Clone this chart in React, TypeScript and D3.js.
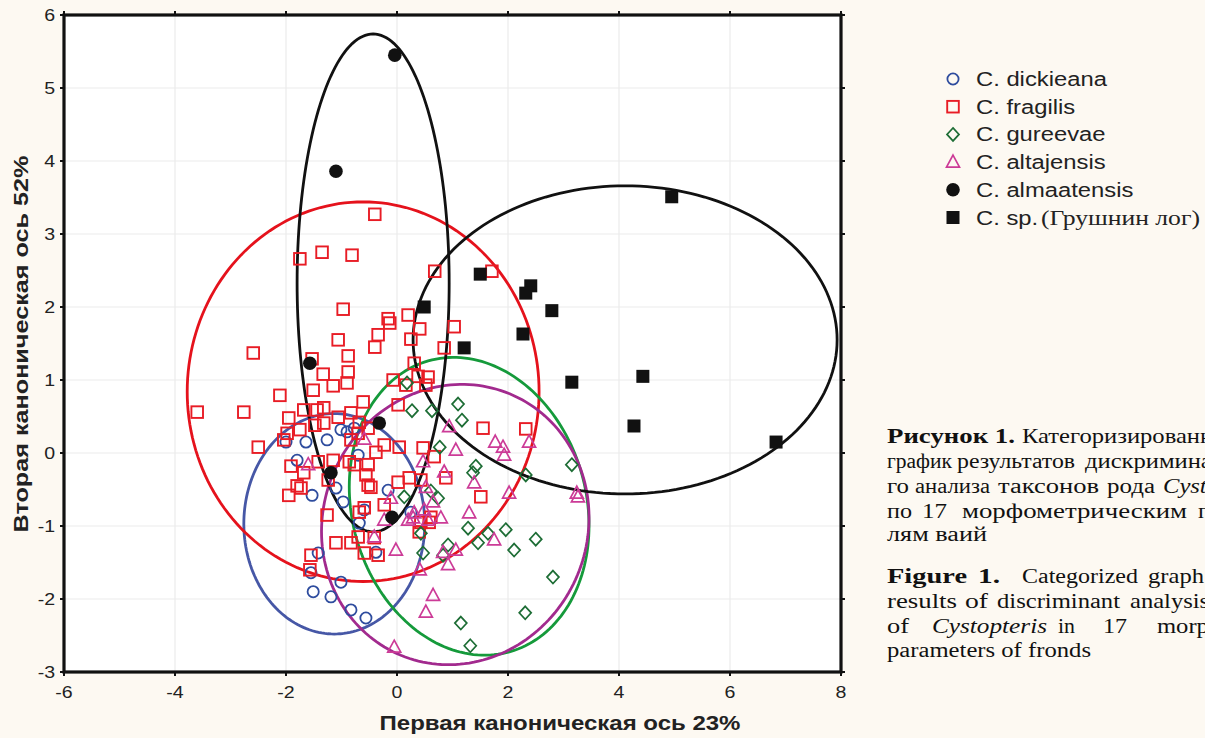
import React from "react";
import * as d3 from "d3";

type Pt = [number, number];

const xTicks = [-6, -4, -2, 0, 2, 4, 6, 8];
const yTicks = [-3, -2, -1, 0, 1, 2, 3, 4, 5, 6];

const dickieana: Pt[] = [
  [-2.0, 0.15], [-1.64, 0.15], [-1.8, -0.1], [-1.26, 0.18], [-1.01, 0.32], [-0.9, 0.29],
  [-0.77, 0.34], [-0.7, -0.03], [-1.53, -0.58], [-1.1, -0.48], [-0.97, -0.67], [-0.68, -0.96],
  [-0.16, -0.51], [-0.59, -0.78], [0.25, -0.81], [-1.42, -1.37], [-1.55, -1.64], [-1.51, -1.9],
  [-1.19, -1.97], [-1.01, -1.77], [-0.38, -1.36], [-0.83, -2.15], [-0.56, -2.26],
];

const fragilis: Pt[] = [
  [-1.75, 2.66], [-1.35, 2.75], [-0.81, 2.71], [0.68, 2.49], [-0.97, 1.97], [-0.16, 1.84],
  [-0.13, 1.78], [0.2, 1.89], [0.41, 1.7], [-1.06, 1.55], [-0.34, 1.62], [-0.4, 1.45],
  [0.25, 1.56], [0.85, 1.44], [-0.88, 1.33], [-2.59, 1.37], [-1.53, 1.29], [-0.88, 1.11],
  [-1.33, 1.08], [-1.15, 0.92], [-0.9, 0.96], [-1.51, 0.86], [-2.11, 0.79], [-3.6, 0.56],
  [-2.76, 0.56], [-0.61, 0.7], [0.31, 1.23], [-0.07, 1.0], [0.16, 0.93], [0.56, 1.04],
  [0.38, 1.05], [0.02, 0.66], [-1.95, 0.48], [-1.68, 0.59], [-1.44, 0.59], [-1.32, 0.62],
  [-0.83, 0.55], [-0.4, 3.27], [1.71, 2.49], [1.03, 1.73], [1.55, 0.34], [2.32, 0.33],
  [0.52, 0.93], [-1.06, 0.49], [-2.5, 0.08], [-1.98, 0.27], [-1.75, 0.32], [-1.32, 0.41],
  [-1.48, 0.38], [-0.83, 0.18], [-0.68, 0.42], [-0.7, 0.27], [-0.52, 0.34], [-0.23, 0.11],
  [0.04, 0.08], [-0.38, 0.01], [-0.86, -0.12], [-0.77, -0.16], [-0.52, -0.16], [-1.91, -0.18],
  [-1.68, -0.27], [-1.42, -0.12], [-1.15, -0.1], [-1.24, -0.37], [-1.8, -0.45], [-1.95, -0.58],
  [-0.56, -0.3], [-0.52, -0.44], [-0.47, -0.47], [0.02, -0.4], [0.47, 0.07], [0.67, -0.05],
  [0.43, -0.37], [0.88, -0.34], [0.22, -0.34], [-1.26, -0.85], [-0.68, -0.81], [-0.59, -0.75],
  [-0.23, -0.71], [0.43, -0.95], [0.61, -0.88], [-0.7, -1.15], [-0.41, -1.16], [-2.04, 0.18],
  [-1.73, -0.48], [-1.1, -1.23], [-1.55, -1.4], [-1.57, -1.6], [-0.83, -1.23], [-0.59, -1.37],
  [-0.34, -1.4], [0.58, -0.95], [0.4, -1.08], [1.51, -0.6],
];

const gureevae: Pt[] = [
  [0.18, 0.96], [0.27, 0.58], [0.63, 0.58], [1.1, 0.67], [1.17, 0.45], [0.77, 0.08],
  [1.42, -0.18], [1.37, -0.27], [2.32, -0.3], [3.15, -0.16], [0.13, -0.6], [0.61, -0.52],
  [0.74, -0.62], [1.28, -1.03], [1.96, -1.05], [2.5, -1.18], [1.64, -1.1], [0.43, -1.1],
  [0.47, -1.37], [0.92, -1.26], [1.46, -1.23], [2.11, -1.33], [2.81, -1.7], [0.83, -1.4],
  [2.31, -2.19], [1.15, -2.33], [1.32, -2.64],
];

const altajensis: Pt[] = [
  [-0.59, 0.19], [0.94, 0.36], [1.06, 0.04], [1.77, 0.15], [1.91, 0.08], [1.93, -0.03],
  [2.38, 0.15], [3.26, -0.6], [3.24, -0.55], [1.39, -0.41], [2.02, -0.55], [0.85, -0.26],
  [0.52, -0.47], [0.65, -0.67], [0.79, -0.89], [0.29, -0.89], [0.49, -0.78], [1.3, -0.82],
  [-0.11, -0.62], [-0.23, -0.92], [0.47, -0.12], [-1.6, -0.16], [0.31, -0.82], [0.56, -0.92],
  [0.2, -0.92], [-0.41, -1.15], [-0.02, -1.33], [0.83, -1.36], [1.06, -1.33], [0.92, -1.53],
  [0.41, -1.6], [1.75, -1.19], [0.65, -1.95], [0.52, -2.18], [-0.05, -2.66],
];

const almaatensis: Pt[] = [
  [-0.04, 5.45], [-1.1, 3.86], [-1.57, 1.23], [-1.19, -0.27], [-0.32, 0.41], [-0.09, -0.88],
];

const grushnin: Pt[] = [
  [4.95, 3.51], [1.5, 2.45], [2.41, 2.29], [2.32, 2.19], [0.49, 2.0], [2.79, 1.95],
  [2.27, 1.63], [1.21, 1.44], [3.15, 0.97], [4.43, 1.05], [4.27, 0.37], [6.83, 0.15],
];

// ellipses: center x, center y, half-extent x, half-extent y, correlation
const ellipseNames = ["dickieana", "fragilis", "gureevae", "altajensis", "almaatensis", "grushnin"];
const ellipseCx = [-1.13, -0.61, 1.3, 1.05, -0.43, 4.11];
const ellipseCy = [-0.97, 0.84, -0.73, -0.98, 2.33, 1.55];
const ellipseSx = [1.63, 3.17, 2.16, 2.41, 1.37, 3.82];
const ellipseSy = [1.51, 2.6, 2.04, 1.92, 3.41, 2.11];
const ellipseR = [0, 0, -0.13, 0.05, 0, 0];
const ellipseColors = ["#4657a6", "#e5121c", "#159a3b", "#a22a8e", "#111111", "#111111"];

const legendLabels = ["C. dickieana", "C. fragilis", "C. gureevae", "C. altajensis", "C. almaatensis", "C. sp."];

const BLUE = "#2e4c9e";
const RED = "#e81c25";
const GREEN = "#1d6d35";
const MAGENTA = "#cc3b97";
const BLACK = "#111111";

const x = d3.scaleLinear().domain([-6, 8]).range([64, 841]);
const y = d3.scaleLinear().domain([-3, 6]).range([672, 15]);

function ellipsePath(i: number): string {
  const pts: [number, number][] = d3.range(0, 361, 2).map((deg) => {
    const t = (deg * Math.PI) / 180;
    const r = ellipseR[i];
    const ex = ellipseCx[i] + ellipseSx[i] * Math.cos(t);
    const ey = ellipseCy[i] + ellipseSy[i] * (r * Math.cos(t) + Math.sqrt(1 - r * r) * Math.sin(t));
    return [x(ex), y(ey)];
  });
  return (d3.line().curve(d3.curveLinearClosed)(pts) as string) || "";
}

function Marker({ kind, cx, cy }: { kind: number; cx: number; cy: number }) {
  switch (kind) {
    case 0:
      return <circle cx={cx} cy={cy} r={5.6} fill="none" stroke={BLUE} strokeWidth={1.8} />;
    case 1:
      return <rect x={cx - 5.8} y={cy - 5.8} width={11.6} height={11.6} fill="none" stroke={RED} strokeWidth={1.9} />;
    case 2:
      return (
        <path d={`M${cx},${cy - 6.5}L${cx + 6},${cy}L${cx},${cy + 6.5}L${cx - 6},${cy}Z`} fill="none" stroke={GREEN} strokeWidth={1.7} />
      );
    case 3:
      return (
        <path d={`M${cx},${cy - 7}L${cx + 6.5},${cy + 5}L${cx - 6.5},${cy + 5}Z`} fill="none" stroke={MAGENTA} strokeWidth={1.7} />
      );
    case 4:
      return <circle cx={cx} cy={cy} r={6.8} fill={BLACK} />;
    default:
      return <rect x={cx - 6.5} y={cy - 6.5} width={13} height={13} fill={BLACK} />;
  }
}

const seriesList: Pt[][] = [dickieana, fragilis, gureevae, altajensis, almaatensis, grushnin];

type Word = { t: string; x: number; y: number; len?: number; w?: string; s?: string };

export default function App() {
  const serif = "'Liberation Serif', 'Times New Roman', serif";
  const sans = "'Liberation Sans', Arial, sans-serif";
  const caption: Word[] = [
    { t: "Рисунок 1.", x: 887, y: 443, len: 128, w: "bold" },
    { t: "Категоризированный", x: 1022, y: 443 },
    { t: "график", x: 887, y: 468, len: 65 },
    { t: "результатов", x: 957, y: 468, len: 118 },
    { t: "дискриминантно-", x: 1085, y: 468 },
    { t: "го", x: 887, y: 493, len: 22 },
    { t: "анализа", x: 915, y: 493, len: 75 },
    { t: "таксонов", x: 998, y: 493, len: 101 },
    { t: "рода", x: 1107, y: 493, len: 48 },
    { t: "Cystopteris", x: 1163, y: 493, s: "italic" },
    { t: "по", x: 887, y: 518, len: 25 },
    { t: "17", x: 922, y: 518, len: 25 },
    { t: "морфометрическим", x: 962, y: 518, len: 225 },
    { t: "пара-", x: 1198, y: 518 },
    { t: "лям ваий", x: 887, y: 541, len: 100 },
    { t: "Figure", x: 887, y: 583, len: 80, w: "bold" },
    { t: "1.", x: 978, y: 583, len: 22, w: "bold" },
    { t: "Categorized", x: 1022, y: 583, len: 116 },
    { t: "graph", x: 1148, y: 583 },
    { t: "results", x: 887, y: 608, len: 70 },
    { t: "of", x: 965, y: 608, len: 23 },
    { t: "discriminant", x: 997, y: 608, len: 123 },
    { t: "analysis", x: 1130, y: 608 },
    { t: "of", x: 887, y: 633, len: 22 },
    { t: "Cystopteris", x: 932, y: 633, len: 115, s: "italic" },
    { t: "in", x: 1058, y: 633, len: 17 },
    { t: "17", x: 1103, y: 633, len: 24 },
    { t: "morphometric", x: 1157, y: 633 },
    { t: "parameters of fronds", x: 887, y: 657, len: 204 },
  ];

  return (
    <>
      <style>{`body{margin:0;background:#fdf9f2;overflow:hidden}`}</style>
      <svg width={1205} height={738} style={{ display: "block", background: "#fdf9f2" }}>
        {/* plot area */}
        <rect x={64} y={15} width={777} height={657} fill="#ffffff" />
        {xTicks.map((t) => (
          <line key={"gx" + t} x1={x(t)} x2={x(t)} y1={15} y2={672} stroke="#ebebeb" strokeWidth={1.2} />
        ))}
        {yTicks.map((t) => (
          <line key={"gy" + t} x1={64} x2={841} y1={y(t)} y2={y(t)} stroke="#ebebeb" strokeWidth={1.2} />
        ))}

        {/* ellipses */}
        {ellipseNames.map((n, i) => (
          <path key={"el" + n} d={ellipsePath(i)} fill="none" stroke={ellipseColors[i]} strokeWidth={2.8} />
        ))}

        {/* points */}
        {seriesList.map((s, k) =>
          s.map((p, j) => <Marker key={`m${k}-${j}`} kind={k} cx={x(p[0])} cy={y(p[1])} />)
        )}

        {/* frame */}
        <rect x={64} y={15} width={777} height={657} fill="none" stroke="#111" strokeWidth={3.2} />
        {xTicks.map((t) => (
          <g key={"tx" + t}>
            <line x1={x(t)} x2={x(t)} y1={672} y2={676} stroke="#111" strokeWidth={2} />
            <line x1={x(t)} x2={x(t)} y1={11} y2={15} stroke="#111" strokeWidth={2} />
            <text
              transform={`translate(${x(t)},698) scale(1.15,1)`}
              textAnchor="middle"
              fontFamily={sans}
              fontSize={17}
              fill="#222"
            >
              {t}
            </text>
          </g>
        ))}
        {yTicks.map((t) => (
          <g key={"ty" + t}>
            <line x1={60} x2={64} y1={y(t)} y2={y(t)} stroke="#111" strokeWidth={2} />
            <line x1={841} x2={845} y1={y(t)} y2={y(t)} stroke="#111" strokeWidth={2} />
            <text
              transform={`translate(55,${y(t) + 6}) scale(1.15,1)`}
              textAnchor="end"
              fontFamily={sans}
              fontSize={17}
              fill="#222"
            >
              {t}
            </text>
          </g>
        ))}

        {/* axis titles */}
        <text
          transform="translate(560,730) scale(1.2,1)"
          textAnchor="middle"
          fontFamily={sans}
          fontWeight="bold"
          fontSize={20}
          fill="#222"
        >
          Первая каноническая ось 23%
        </text>
        <text
          transform="translate(28,344) rotate(-90) scale(1.26,1)"
          textAnchor="middle"
          fontFamily={sans}
          fontWeight="bold"
          fontSize={20}
          fill="#222"
        >
          Вторая каноническая ось 52%
        </text>

        {/* legend */}
        {legendLabels.map((l, i) => {
          const ly = 79 + i * 27.7;
          return (
            <g key={"lg" + i}>
              <Marker kind={i} cx={953} cy={ly} />
              <text transform={`translate(976,${ly + 7}) scale(1.19,1)`} fontFamily={sans} fontSize={20} fill="#222">
                {l}
              </text>
              {i === 5 ? (
                <text
                  x={1041}
                  y={ly + 7}
                  textLength={159}
                  lengthAdjust="spacingAndGlyphs"
                  fontFamily={serif}
                  fontSize={21}
                  fill="#222"
                >
                  (Грушнин лог)
                </text>
              ) : null}
            </g>
          );
        })}

        {/* caption */}
        {caption.map((w, wi) =>
          w.len ? (
            <text
              key={`c${wi}`}
              x={w.x}
              y={w.y}
              textLength={w.len}
              lengthAdjust="spacingAndGlyphs"
              fontFamily={serif}
              fontSize={20.5}
              fontWeight={w.w || "normal"}
              fontStyle={w.s || "normal"}
              fill="#111"
            >
              {w.t}
            </text>
          ) : (
            <text
              key={`c${wi}`}
              transform={`translate(${w.x},${w.y}) scale(1.2,1)`}
              fontFamily={serif}
              fontSize={20.5}
              fontWeight={w.w || "normal"}
              fontStyle={w.s || "normal"}
              fill="#111"
            >
              {w.t}
            </text>
          )
        )}
      </svg>
    </>
  );
}
